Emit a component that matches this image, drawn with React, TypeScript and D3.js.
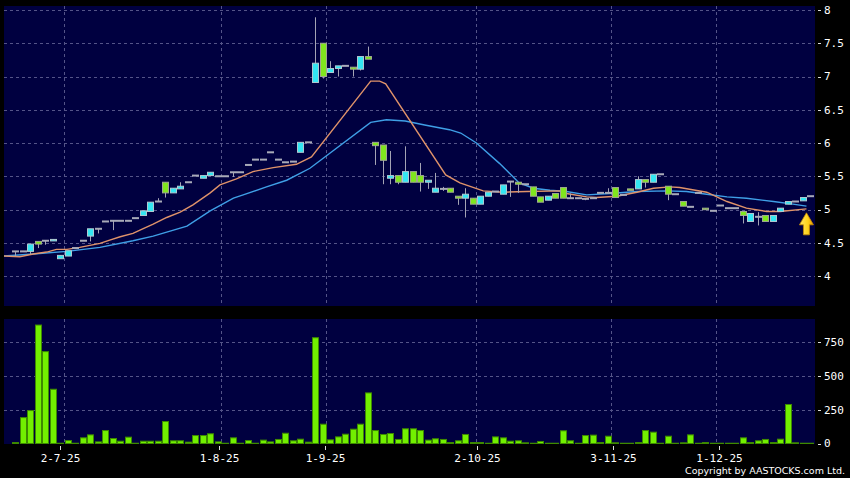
import React from "react";
import * as d3 from "d3";

// ---- data (one entry per trading slot) ----
const open = [
  4.37, 4.37, 4.37, 4.52, 4.53, 4.53, 4.26, 4.30, 4.42, 4.53,
  4.60, 4.71, 4.82, 4.83, 4.83, 4.83, 4.87, 4.91, 4.97, 5.12,
  5.41, 5.25, 5.31, 5.41, 5.51, 5.47, 5.51, 5.50, 5.50, 5.56,
  5.56, 5.67, 5.75, 5.75, 5.86, 5.75, 5.71, 5.72, 5.86, 6.01,
  6.91, 7.50, 7.06, 7.12, 7.16, 7.14, 7.11, 7.30, 6.01, 5.97,
  5.47, 5.51, 5.41, 5.57, 5.51, 5.41, 5.26, 5.31, 5.32, 5.20,
  5.17, 5.17, 5.08, 5.20, 5.27, 5.23, 5.42, 5.41, 5.38, 5.34,
  5.19, 5.14, 5.24, 5.33, 5.17, 5.17, 5.16, 5.17, 5.25, 5.25,
  5.33, 5.22, 5.31, 5.31, 5.45, 5.41, 5.53, 5.35, 5.23, 5.12,
  5.04, 5.25, 5.02, 4.98, 5.06, 5.02, 5.02, 4.97, 4.82, 4.89,
  4.91, 4.82, 4.97, 5.08, 5.12, 5.13, 5.20,
];
const close = [
  4.37, 4.37, 4.48, 4.48, 4.53, 4.55, 4.31, 4.38, 4.42, 4.53,
  4.71, 4.71, 4.82, 4.83, 4.83, 4.83, 4.87, 4.98, 5.11, 5.12,
  5.25, 5.32, 5.35, 5.41, 5.51, 5.51, 5.56, 5.50, 5.50, 5.56,
  5.56, 5.67, 5.75, 5.75, 5.86, 5.75, 5.71, 5.72, 6.01, 6.01,
  7.20, 7.00, 7.12, 7.16, 7.16, 7.11, 7.30, 7.26, 5.96, 5.74,
  5.51, 5.41, 5.57, 5.41, 5.41, 5.44, 5.32, 5.31, 5.26, 5.17,
  5.23, 5.08, 5.20, 5.26, 5.27, 5.37, 5.42, 5.38, 5.38, 5.20,
  5.11, 5.20, 5.17, 5.17, 5.17, 5.17, 5.16, 5.17, 5.25, 5.25,
  5.18, 5.22, 5.29, 5.45, 5.41, 5.53, 5.53, 5.23, 5.23, 5.05,
  5.04, 5.25, 5.00, 4.98, 5.06, 5.02, 5.02, 4.91, 4.94, 4.89,
  4.82, 4.91, 5.02, 5.12, 5.12, 5.18, 5.20,
];
const high = [
  4.37, 4.37, 4.48, 4.52, 4.53, 4.55, 4.31, 4.38, 4.42, 4.53,
  4.71, 4.71, 4.82, 4.83, 4.83, 4.83, 4.87, 4.98, 5.11, 5.17,
  5.41, 5.32, 5.41, 5.41, 5.51, 5.51, 5.56, 5.50, 5.50, 5.56,
  5.56, 5.67, 5.75, 5.75, 5.86, 5.75, 5.71, 5.72, 6.01, 6.01,
  7.89, 7.50, 7.23, 7.16, 7.16, 7.14, 7.30, 7.45, 6.01, 5.97,
  5.88, 5.51, 5.95, 5.57, 5.70, 5.44, 5.55, 5.34, 5.32, 5.20,
  5.32, 5.17, 5.20, 5.26, 5.27, 5.37, 5.42, 5.41, 5.38, 5.34,
  5.19, 5.20, 5.24, 5.33, 5.24, 5.17, 5.16, 5.17, 5.25, 5.32,
  5.33, 5.22, 5.31, 5.50, 5.45, 5.53, 5.53, 5.35, 5.23, 5.12,
  5.04, 5.25, 5.02, 4.98, 5.06, 5.02, 5.02, 4.97, 4.94, 4.96,
  4.91, 4.91, 5.02, 5.12, 5.12, 5.18, 5.20,
];
const low = [
  4.30, 4.37, 4.33, 4.42, 4.47, 4.53, 4.26, 4.30, 4.42, 4.53,
  4.52, 4.64, 4.82, 4.69, 4.83, 4.83, 4.87, 4.91, 4.97, 5.12,
  5.18, 5.25, 5.31, 5.41, 5.51, 5.47, 5.51, 5.50, 5.50, 5.49,
  5.56, 5.67, 5.75, 5.75, 5.86, 5.75, 5.71, 5.72, 5.86, 6.01,
  6.91, 6.97, 7.06, 7.00, 7.16, 7.00, 7.09, 7.26, 5.67, 5.38,
  5.38, 5.38, 5.41, 5.41, 5.27, 5.31, 5.26, 5.28, 5.26, 5.07,
  4.88, 5.08, 5.08, 5.20, 5.27, 5.23, 5.19, 5.25, 5.38, 5.20,
  5.11, 5.14, 5.17, 5.17, 5.17, 5.17, 5.14, 5.17, 5.25, 5.25,
  5.18, 5.22, 5.29, 5.31, 5.33, 5.41, 5.53, 5.14, 5.23, 5.05,
  5.04, 5.25, 5.00, 4.98, 5.06, 5.02, 5.02, 4.79, 4.82, 4.76,
  4.82, 4.82, 4.97, 5.08, 5.12, 5.13, 5.20,
];
const volume = [
  7, 192, 244, 878, 681, 402, 2, 22, 2, 42,
  64, 12, 96, 37, 17, 47, 2, 17, 17, 17,
  163, 20, 20, 10, 59, 59, 72, 12, 2, 42,
  2, 22, 2, 25, 12, 30, 76, 20, 32, 10,
  784, 143, 27, 49, 69, 106, 143, 375, 96, 67,
  74, 30, 109, 109, 96, 25, 35, 30, 7, 20,
  67, 7, 7, 2, 49, 42, 17, 20, 5, 2,
  15, 2, 2, 94, 20, 2, 59, 62, 7, 54,
  5, 2, 2, 7, 96, 84, 2, 54, 2, 5,
  64, 2, 7, 2, 2, 2, 2, 42, 7, 20,
  30, 7, 32, 289, 5, 2, 2,
];
// moving averages: [slot, value]
const ma10: [number, number][] = [
  [-1.5, 4.3], [0.6, 4.29], [2.4, 4.33], [4.2, 4.36], [5.5, 4.4], [6.9, 4.4],
  [8.6, 4.43], [11.3, 4.49], [12.6, 4.54], [14, 4.59], [15.7, 4.64], [17, 4.71],
  [18.4, 4.78], [20.2, 4.88], [22, 4.96], [23.7, 5.07], [26, 5.25], [27.3, 5.37],
  [29.5, 5.46], [31.7, 5.57], [34.4, 5.63], [37.5, 5.68], [39.5, 5.79], [47.4, 6.93],
  [48.6, 6.93], [49.4, 6.89], [57.4, 5.52], [59.3, 5.4], [62.4, 5.28], [65, 5.26],
  [68.2, 5.27], [72.6, 5.28], [73.5, 5.24], [76.2, 5.19], [77.5, 5.18], [80.2, 5.2],
  [82.9, 5.26], [85.1, 5.32], [87.3, 5.34], [88.6, 5.33], [92.2, 5.26], [94.9, 5.12],
  [97.5, 5.02], [100.2, 4.97], [102, 4.97], [105.5, 5.01],
];
const ma20: [number, number][] = [
  [-1.5, 4.3], [2.4, 4.33], [6.9, 4.37], [11.3, 4.43], [15.7, 4.53], [18.4, 4.6],
  [20.2, 4.66], [22.9, 4.75], [26, 4.98], [29.1, 5.17], [30.4, 5.22], [33.5, 5.34],
  [36.2, 5.44], [39.3, 5.62], [47.4, 6.31], [49.5, 6.35], [52, 6.33], [54.6, 6.27],
  [57.9, 6.2], [59.4, 6.15], [61.5, 6.0], [64.6, 5.69], [67.2, 5.4], [69.1, 5.32],
  [71.3, 5.29], [73.5, 5.27], [76.2, 5.22], [79.3, 5.24], [82.9, 5.27], [86.9, 5.28],
  [89.5, 5.27], [92.2, 5.23], [94.9, 5.19], [97.5, 5.17], [101.1, 5.12], [103.7, 5.08],
  [105.5, 5.05],
];
const priceTicks = [4, 4.5, 5, 5.5, 6, 6.5, 7, 7.5, 8];
const volumeTicks = [0, 250, 500, 750];
const xTickSlots = [6, 27, 41, 61, 79, 93];
const xTickLabels = ["2-7-25", "1-8-25", "1-9-25", "2-10-25", "3-11-25", "1-12-25"];

export default function App() {
  const W = 850, H = 478;
  const L = 4, R = 815, pT = 6, pB = 306, vT = 319, vB = 444;
  const n = open.length;
  const x = d3.scaleLinear().domain([0, n - 1]).range([15.2, 810.2]);
  const xt = d3.scaleLinear().domain([0, n - 1]).range([14.5, 817.8]);
  const y = d3.scaleLinear().domain([4, 8]).range([276, 10]);
  const yv = d3.scaleLinear().domain([0, 750]).range([443.5, 342.3]);

  const line = d3.line<[number, number]>().x((d) => x(d[0])).y((d) => y(d[1]));
  const grid = "#545488";
  const font = "'DejaVu Sans Mono', monospace";

  const last = ma10[ma10.length - 1];
  const ax = x(last[0]);
  const ay = y(last[1]) + 4;
  const arrow = [
    [ax, ay], [ax + 7, ay + 12], [ax + 3, ay + 12], [ax + 3, ay + 22],
    [ax - 3, ay + 22], [ax - 3, ay + 12], [ax - 7, ay + 12],
  ].map((p) => p.join(",")).join(" ");

  return (
    <svg width={W} height={H} style={{ position: "absolute", left: 0, top: 0, background: "#000" }}>
      <defs>
        <clipPath id="pclip"><rect x={L} y={pT} width={R - L} height={pB - pT} /></clipPath>
        <linearGradient id="arrowGrad" x1="0" x2="1" y1="0" y2="0">
          <stop offset="0" stopColor="#ffe866" />
          <stop offset="0.6" stopColor="#ffd21a" />
          <stop offset="1" stopColor="#e89a00" />
        </linearGradient>
      </defs>
      <rect x={0} y={0} width={W} height={H} fill="#000" />
      <rect x={L} y={pT} width={R - L} height={pB - pT} fill="#000040" />
      <rect x={L} y={vT} width={R - L} height={vB - vT} fill="#000040" />

      {/* horizontal grid - price */}
      {priceTicks.map((t) => (
        <line key={"pg" + t} x1={L} x2={R} y1={Math.round(y(t)) + 0.5} y2={Math.round(y(t)) + 0.5}
          stroke={grid} strokeDasharray="3,3" strokeWidth={1} />
      ))}
      {volumeTicks.filter((t) => t > 0).map((t) => (
        <line key={"vg" + t} x1={L} x2={R} y1={Math.round(yv(t)) + 0.5} y2={Math.round(yv(t)) + 0.5}
          stroke={grid} strokeDasharray="3,3" strokeWidth={1} />
      ))}
      {/* vertical grid */}
      {xTickSlots.map((s) => {
        const gx = Math.round(x(s + 0.5)) + 0.5;
        return (
          <g key={"vgl" + s}>
            <line x1={gx} x2={gx} y1={pT} y2={pB} stroke={grid} strokeDasharray="3,3" />
            <line x1={gx} x2={gx} y1={vT} y2={vB} stroke={grid} strokeDasharray="3,3" />
          </g>
        );
      })}

      {/* moving averages */}
      <g clipPath="url(#pclip)">
        <path d={line(ma20) || ""} fill="none" stroke="#3f9fe6" strokeWidth={1.4} />
        <path d={line(ma10) || ""} fill="none" stroke="#e0936a" strokeWidth={1.4} />
      </g>

      {/* candles */}
      <g clipPath="url(#pclip)">
        {open.map((o, i) => {
          const c = close[i];
          const cx = Math.round(x(i));
          const wick = (
            <line x1={cx + 0.5} x2={cx + 0.5} y1={y(high[i])} y2={y(low[i])} stroke="#a4a4b4" strokeWidth={1} />
          );
          if (Math.abs(o - c) < 0.005) {
            return (
              <g key={"c" + i}>
                {wick}
                <rect x={cx - 3} y={y(o) - 1} width={7} height={2} fill="#a8aab8" />
              </g>
            );
          }
          const up = c > o;
          const top = y(Math.max(o, c));
          const h = Math.max(1.5, Math.abs(y(o) - y(c)));
          return (
            <g key={"c" + i}>
              {wick}
              <rect x={cx - 2.5} y={top} width={6} height={h}
                fill={up ? "#33e6f2" : "#80e61e"} stroke={up ? "#b0c8d0" : "#a0a890"} strokeWidth={1} />
            </g>
          );
        })}
      </g>

      {/* arrow marker */}
      <polygon points={arrow} fill="url(#arrowGrad)" stroke="#c88a00" strokeWidth={0.8} />

      {/* volume */}
      {volume.map((v, i) => {
        const cx = Math.round(x(i));
        const top = yv(v);
        return (
          <rect key={"v" + i} x={cx - 2.5} y={top} width={6} height={Math.max(0, yv(0) - top)}
            fill="#72f000" stroke="#3e8a00" strokeWidth={1} />
        );
      })}

      {/* right axes */}
      {priceTicks.map((t) => (
        <g key={"pl" + t}>
          <line x1={818} x2={821} y1={Math.round(y(t)) + 0.5} y2={Math.round(y(t)) + 0.5} stroke="#ddd" />
          <text x={824} y={y(t)} dy="0.35em" fill="#fff" fontFamily={font} fontSize={11}>{String(t)}</text>
        </g>
      ))}
      {volumeTicks.map((t) => (
        <g key={"vl" + t}>
          <line x1={818} x2={821} y1={Math.round(yv(t)) + 0.5} y2={Math.round(yv(t)) + 0.5} stroke="#ddd" />
          <text x={824} y={yv(t)} dy="0.35em" fill="#fff" fontFamily={font} fontSize={11}>{String(t)}</text>
        </g>
      ))}

      {/* x axis */}
      {xTickSlots.map((s, k) => {
        const tx = Math.round(xt(s)) + 0.5;
        return (
          <g key={"xt" + s}>
            <line x1={tx} x2={tx} y1={446} y2={450} stroke="#ddd" />
            <text x={tx} y={461.5} textAnchor="middle" fill="#fff" fontFamily={font} fontSize={11}>{xTickLabels[k]}</text>
          </g>
        );
      })}
      <text x={845} y={473.5} textAnchor="end" fill="#fff" fontFamily="'DejaVu Sans', sans-serif" fontSize={9.5}>
        Copyright by AASTOCKS.com Ltd.
      </text>
    </svg>
  );
}
